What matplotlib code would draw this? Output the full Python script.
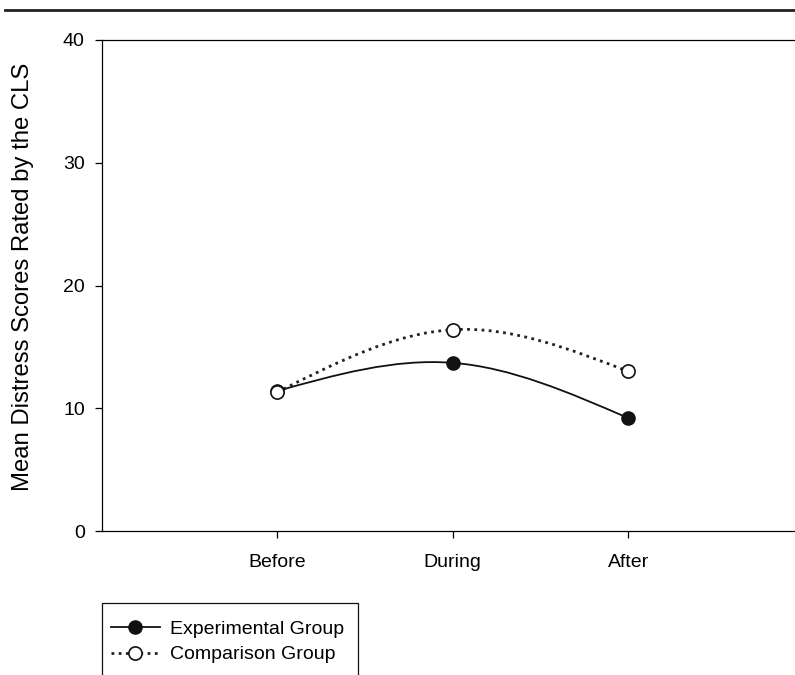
import numpy as np
import matplotlib
matplotlib.use('Agg')
import matplotlib.pyplot as plt
from matplotlib.path import Path
from matplotlib.patches import PathPatch, Rectangle
from matplotlib.lines import Line2D

plt.rcParams['font.family'] = ['Liberation Sans', 'DejaVu Sans']

# data
phases = ['Before', 'During', 'After']
experimental = [11.4, 13.7, 9.2]
comparison = [11.3, 16.4, 13.0]
ylabel = 'Mean Distress Scores Rated by the CLS'


def spline_path(xs, ys):
    # natural cubic spline through the points, written as bezier segments
    xs = np.asarray(xs, float)
    ys = np.asarray(ys, float)
    n = len(xs)
    h = np.diff(xs)
    A = np.zeros((n, n))
    b = np.zeros(n)
    A[0, 0] = A[-1, -1] = 1
    for i in range(1, n - 1):
        A[i, i - 1] = h[i - 1]
        A[i, i] = 2 * (h[i - 1] + h[i])
        A[i, i + 1] = h[i]
        b[i] = 6 * ((ys[i + 1] - ys[i]) / h[i] - (ys[i] - ys[i - 1]) / h[i - 1])
    M = np.linalg.solve(A, b)
    verts = [(xs[0], ys[0])]
    codes = [Path.MOVETO]
    for i in range(n - 1):
        s = (ys[i + 1] - ys[i]) / h[i]
        d0 = s - h[i] * (2 * M[i] + M[i + 1]) / 6
        d1 = s + h[i] * (M[i] + 2 * M[i + 1]) / 6
        verts += [(xs[i] + h[i] / 3, ys[i] + d0 * h[i] / 3),
                  (xs[i + 1] - h[i] / 3, ys[i + 1] - d1 * h[i] / 3),
                  (xs[i + 1], ys[i + 1])]
        codes += [Path.CURVE4] * 3
    return Path(verts, codes)


fig = plt.figure(figsize=(7.95, 6.75), dpi=100)
ax = fig.add_axes([101.5 / 795, 1 - 531 / 675, 1 - 101.5 / 795, 491 / 675])

x = np.arange(1, len(phases) + 1)
dots = (0, (1, 1.6))

ax.add_patch(PathPatch(spline_path(x, comparison), fill=False, color='#222222',
                       lw=2.0, linestyle=dots, zorder=2))
ax.add_patch(PathPatch(spline_path(x, experimental), fill=False, color='#111111',
                       lw=1.3, zorder=2))
ax.plot(x, experimental, 'o', ms=9.5, color='#111111', zorder=3)
ax.plot(x, comparison, 'o', ms=9.5, mfc='white', mec='#111111', mew=1.2, zorder=4)

ax.set_xlim(0, 3.95)
ax.set_ylim(0, 40)
ax.set_xticks(x)
ax.set_xticklabels(phases)
ax.set_yticks([0, 10, 20, 30, 40])
ax.tick_params(direction='out', length=5, width=0.9, labelsize=14, pad=7)
ax.tick_params(axis='x', pad=11.5)
for s in ax.spines.values():
    s.set_linewidth(0.9)
ax.spines['right'].set_visible(False)

ax.set_ylabel(ylabel, fontsize=17.2)
ax.yaxis.set_label_coords(-0.098, 0.517)

# heavy rule at the top of the figure
fig.add_artist(Line2D([5 / 795, 1], [1 - 10 / 675, 1 - 10 / 675],
                      color='#222222', lw=2.0, transform=fig.transFigure))

# legend box runs off the bottom edge
fig.add_artist(Rectangle((101.7 / 795, -0.02), (357.7 - 101.7) / 795,
                         1 - 602.7 / 675 + 0.02, transform=fig.transFigure,
                         fill=False, edgecolor='#111111', lw=0.9))
handles = [
    Line2D([], [], color='#111111', lw=1.3, marker='o', ms=9.5),
    Line2D([], [], color='#222222', lw=2.0, linestyle=dots, marker='o',
           ms=9.5, mfc='white', mec='#111111', mew=1.2),
]
fig.legend(handles, ['Experimental Group', 'Comparison Group'],
           loc='upper left', bbox_to_anchor=(111 / 795, 1 - 620 / 675),
           borderaxespad=0, borderpad=0, fontsize=14, handlelength=2.5,
           handletextpad=0.55, labelspacing=0.42, frameon=False)

fig.savefig('out.png', dpi=100)
